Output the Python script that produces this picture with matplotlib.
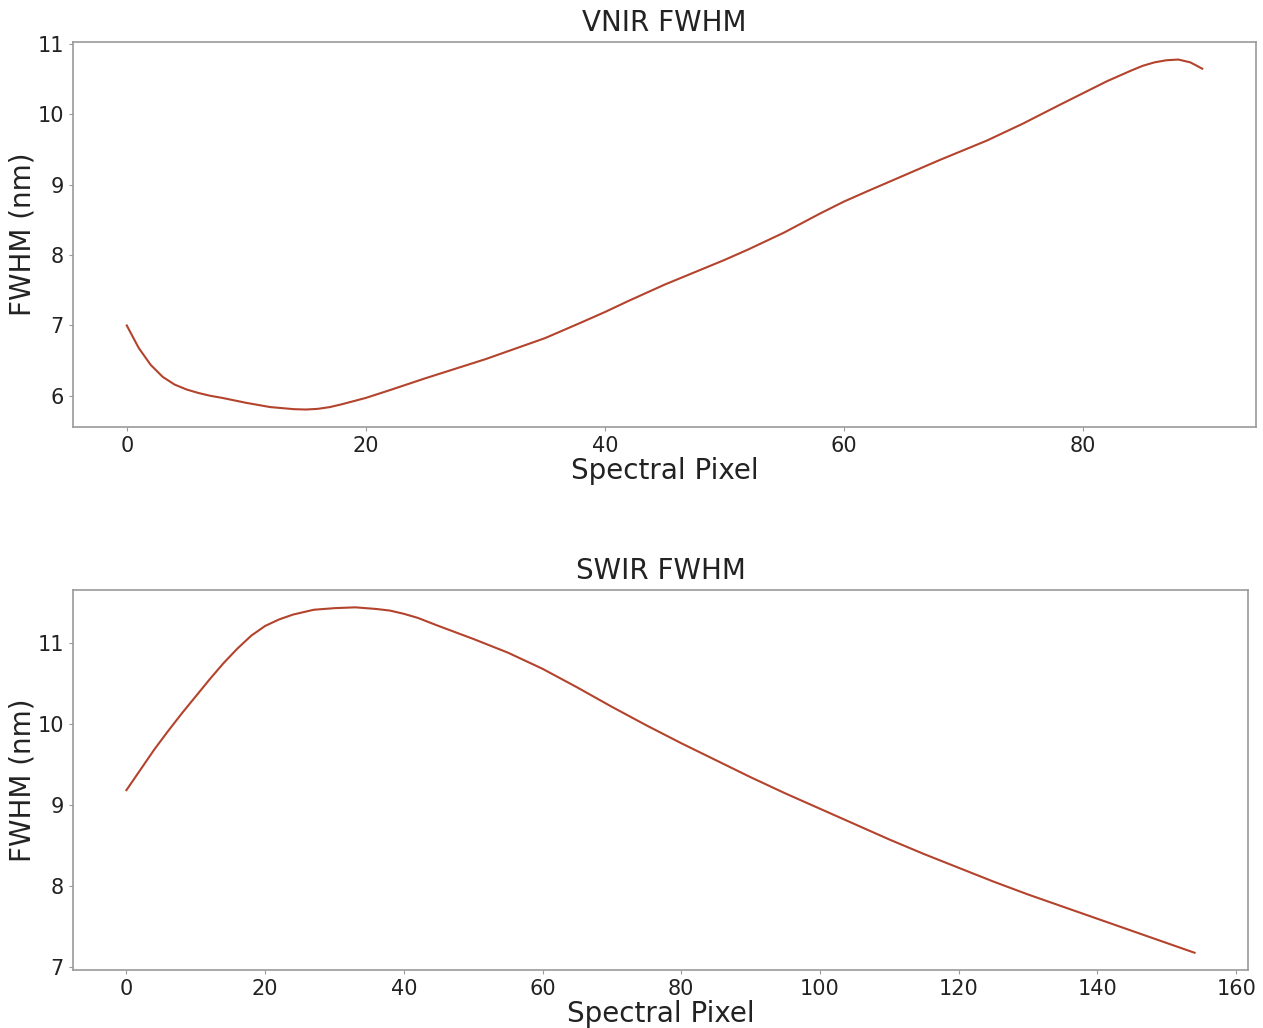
import matplotlib
matplotlib.use("Agg")
import matplotlib.pyplot as plt

# ============================================================
# Data
# ============================================================
vnir_pixel = [0, 1, 2, 3, 4, 5, 6, 7, 8, 10, 12, 14, 15, 16, 17, 18, 20, 22,
              25, 30, 35, 38, 40, 42, 45, 48, 50, 52, 55, 58, 60, 62, 65, 68,
              70, 72, 75, 78, 80, 82, 84, 85, 86, 87, 88, 89, 90]
vnir_fwhm = [7.00, 6.68, 6.44, 6.27, 6.16, 6.09, 6.04, 6.00, 5.97, 5.90, 5.84,
             5.81, 5.805, 5.815, 5.84, 5.88, 5.97, 6.08, 6.25, 6.52, 6.82, 7.04,
             7.19, 7.35, 7.58, 7.79, 7.93, 8.08, 8.32, 8.59, 8.76, 8.91, 9.13,
             9.35, 9.49, 9.63, 9.87, 10.13, 10.30, 10.47, 10.62, 10.69, 10.74,
             10.77, 10.78, 10.74, 10.65]

swir_pixel = [0, 2, 4, 6, 8, 10, 12, 14, 16, 18, 20, 22, 24, 27, 30, 33, 36,
              38, 40, 42, 45, 50, 55, 60, 65, 70, 75, 80, 85, 90, 95, 100, 105,
              110, 115, 120, 125, 130, 135, 140, 145, 150, 154]
swir_fwhm = [9.18, 9.43, 9.68, 9.91, 10.13, 10.34, 10.55, 10.75, 10.93, 11.09,
             11.21, 11.29, 11.35, 11.41, 11.43, 11.44, 11.42, 11.40, 11.36,
             11.31, 11.21, 11.05, 10.88, 10.68, 10.45, 10.21, 9.98, 9.76, 9.55,
             9.34, 9.14, 8.95, 8.76, 8.57, 8.39, 8.22, 8.05, 7.89, 7.74, 7.59,
             7.44, 7.29, 7.17]

LINE_COLOR = "#b3432c"
SPINE_COLOR = "#9a9a9a"

# ============================================================
# Plotting
# ============================================================
fig = plt.figure(figsize=(12.63, 10.28), dpi=100)
ax_top = fig.add_axes([0.0578, 0.5846, 0.9367, 0.3745])
ax_bot = fig.add_axes([0.0578, 0.0564, 0.9303, 0.3696])

panels = [
    (ax_top, vnir_pixel, vnir_fwhm, "VNIR FWHM"),
    (ax_bot, swir_pixel, swir_fwhm, "SWIR FWHM"),
]

for ax, x, y, title in panels:
    ax.plot(x, y, color=LINE_COLOR, linewidth=1.5)
    ax.set_title(title, fontsize=20, color="#222222", pad=8)
    ax.set_xlabel("Spectral Pixel", fontsize=20, color="#222222", labelpad=1)
    ax.set_ylabel("FWHM (nm)", fontsize=20, color="#222222", labelpad=1)
    ax.tick_params(labelsize=15, colors="#222222", length=3, width=0.8)
    ax.tick_params(color=SPINE_COLOR)
    for spine in ax.spines.values():
        spine.set_color(SPINE_COLOR)
        spine.set_linewidth(1.2)

fig.savefig("out.png", dpi=100)
plt.close(fig)
